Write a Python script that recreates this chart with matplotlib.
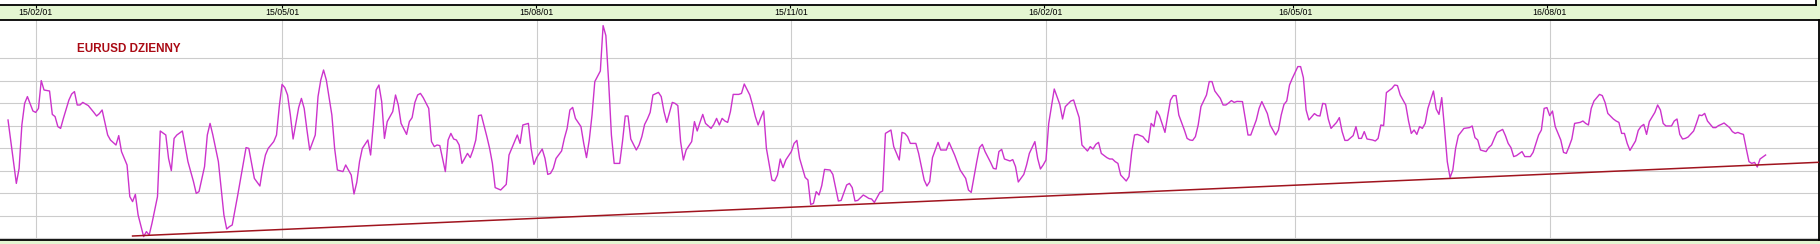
import matplotlib
matplotlib.use('Agg')
import matplotlib.pyplot as plt
import matplotlib.transforms as mtransforms
import pandas as pd

# EURUSD dzienny - kurs odczytany z wykresu
# dni liczone od 2015-01-01
dni = [21, 24, 25, 26, 27, 28, 30, 31, 32, 33, 34, 36, 37, 38, 39, 40, 41, 43, 44, 45,
       46, 47, 48, 50, 52, 53, 54, 55, 57, 58, 60, 61, 62, 64, 65, 66, 67, 68, 70, 71,
       72, 73, 75, 76, 78, 79, 80, 81, 82, 84, 85, 86, 88, 89, 90, 92, 93, 94, 95, 97,
       99, 100, 101, 102, 104, 106, 107, 108, 110,
       112, 113, 114, 115, 117, 118, 119, 120, 121, 122, 123, 124, 126, 127, 128, 129, 130, 132, 133, 134,
       135, 136, 138, 139, 140, 142, 143, 145, 146, 147, 148, 149, 151, 152, 153, 154, 155, 156, 157, 158,
       160, 161, 162, 163, 165, 166, 167, 168, 169, 170, 171, 173, 174, 175, 176, 177, 179, 180, 181, 182,
       183, 184, 185, 187, 188, 189, 190, 191, 192, 194, 195, 196, 197, 199, 201, 202,
       204, 205, 206, 207, 209, 210, 211, 212, 214, 215, 216, 217, 218, 219, 221, 222, 223, 224, 225, 226,
       228, 229, 230, 231, 232, 233, 235, 236, 237, 238, 239, 240, 242, 243, 244, 245, 246, 248, 249, 250,
       251, 252, 253, 254, 256, 257, 258, 259, 261, 262, 263, 264, 265, 266, 268, 269, 270, 271, 272, 273,
       275, 276, 277, 278, 279, 280, 281, 282, 283, 284, 285, 286, 287, 289, 290, 291, 292, 293, 294,
       295, 297, 298, 299, 300, 301, 302, 304, 305, 306, 307, 309, 310, 311, 312, 313, 314, 315, 316, 318,
       319, 320, 321, 322, 324, 325, 326, 327, 328, 330, 331, 332, 333, 334, 336, 337, 338, 340, 341, 343,
       344, 345, 346, 347, 349, 350, 351, 352, 353, 354, 355, 357, 358, 360, 361, 363, 365, 367, 368, 369,
       371, 372, 373, 374, 376, 377, 378, 379, 380, 381, 383, 384, 385, 386,
       388, 389, 390, 392, 393, 394, 395, 396, 397, 399, 400, 401, 402, 403, 405, 406, 407, 408, 409, 411,
       412, 413, 414, 415, 416, 418, 419, 420, 421, 422, 423, 425, 426, 427, 428, 429, 431, 432, 433, 434,
       435, 436, 437, 439, 440, 441, 442, 443, 444, 446, 447, 448, 449, 450, 451, 452, 454, 455, 456, 457,
       459, 460, 461, 462, 463, 464, 465, 467, 468, 469, 470, 472, 473, 474, 475, 476, 477, 479,
       480, 481, 482, 483, 484, 485, 487, 488, 489, 490, 491, 493, 494, 495, 496, 497, 498, 499, 501, 502,
       503, 504, 505, 507, 508, 509, 510, 511, 512, 514, 515, 516, 517, 518, 519, 521, 522, 523, 524, 526,
       527, 528, 529, 530, 531, 532, 533, 534, 536, 537, 538, 539, 540, 541, 542, 543, 544, 545, 547, 549,
       550, 551, 552, 553, 555, 556, 557, 558, 559, 561, 562, 563, 564, 565, 566, 568, 569, 571,
       572, 574, 575, 576, 577, 578, 579, 580, 582, 583, 584, 585, 586, 587, 589, 590, 591, 592, 593, 594,
       596, 597, 598, 599, 601, 602, 603, 604, 605, 606, 607, 609, 610, 611, 612, 613, 614, 616, 617, 618,
       619, 620, 622, 623, 624, 625, 626, 627, 628, 630, 631, 632, 633, 634, 635, 637, 638, 639, 640, 641,
       643, 644, 645, 646, 647, 648, 649, 650, 651, 652, 653, 654, 655, 656]

kurs = [1.1080, 1.0763, 1.0838, 1.1055, 1.1163, 1.1197, 1.1125, 1.1118, 1.1138, 1.1277, 1.1230, 1.1225, 1.1108, 1.1097, 1.1047, 1.1038, 1.1088, 1.1180, 1.1210, 1.1222,
        1.1155, 1.1155, 1.1168, 1.1152, 1.1118, 1.1100, 1.1112, 1.1130, 1.1005, 1.0980, 1.0955, 1.1002, 1.0922, 1.0855, 1.0697, 1.0672, 1.0708, 1.0605, 1.0497, 1.0522,
        1.0505, 1.0563, 1.0697, 1.1025, 1.1005, 1.0888, 1.0827, 1.0988, 1.1005, 1.1025, 1.0947, 1.0872, 1.0772, 1.0713, 1.0722, 1.0847, 1.1005, 1.1063, 1.1005, 1.0872,
        1.0605, 1.0535, 1.0547, 1.0555, 1.0705, 1.0863, 1.0942, 1.0938, 1.0788,
        1.0750, 1.0838, 1.0905, 1.0938, 1.0972, 1.1005, 1.1147, 1.1258, 1.1242, 1.1205, 1.1105, 1.0985, 1.1142, 1.1188, 1.1138, 1.1030, 1.0930, 1.1005, 1.1197, 1.1280,
        1.1330, 1.1280, 1.1105, 1.0938, 1.0830, 1.0822, 1.0855, 1.0805, 1.0710, 1.0768, 1.0872, 1.0938, 1.0980, 1.0905, 1.1063, 1.1230, 1.1255, 1.1172, 1.0988, 1.1072,
        1.1122, 1.1205, 1.1155, 1.1063, 1.1008, 1.1072, 1.1092, 1.1168, 1.1205, 1.1213, 1.1192, 1.1138, 1.0972, 1.0947, 1.0955, 1.0952, 1.0822, 1.0980, 1.1013, 1.0985,
        1.0980, 1.0955, 1.0863, 1.0913, 1.0892, 1.0930, 1.0980, 1.1102, 1.1105, 1.0997, 1.0938, 1.0863, 1.0742, 1.0730, 1.0758, 1.0905,
        1.0972, 1.1005, 1.0963, 1.1055, 1.1063, 1.0938, 1.0858, 1.0892, 1.0935, 1.0888, 1.0808, 1.0813, 1.0838, 1.0888, 1.0925, 1.0988, 1.1038, 1.1130, 1.1143, 1.1088,
        1.1047, 1.0963, 1.0892, 1.0980, 1.1105, 1.1272, 1.1325, 1.1552, 1.1502, 1.1272, 1.1005, 1.0863, 1.0863, 1.0972, 1.1100, 1.1100, 1.0985, 1.0930, 1.0955, 1.0997,
        1.1058, 1.1085, 1.1118, 1.1205, 1.1218, 1.1197, 1.1122, 1.1068, 1.1168, 1.1163, 1.1152, 1.0972, 1.0880, 1.0930, 1.0972, 1.1072, 1.1025, 1.1068, 1.1108, 1.1063,
        1.1038, 1.1058, 1.1088, 1.1055, 1.1088, 1.1075, 1.1068, 1.1122, 1.1208, 1.1208, 1.1208, 1.1213, 1.1260, 1.1205, 1.1155, 1.1097, 1.1055, 1.1092, 1.1125,
        1.0938, 1.0780, 1.0775, 1.0805, 1.0885, 1.0842, 1.0880, 1.0922, 1.0963, 1.0978, 1.0888, 1.0793, 1.0780, 1.0658, 1.0663, 1.0722, 1.0705, 1.0752, 1.0833, 1.0830,
        1.0808, 1.0742, 1.0675, 1.0678, 1.0755, 1.0763, 1.0742, 1.0675, 1.0678, 1.0705, 1.0697, 1.0688, 1.0685, 1.0668, 1.0718, 1.0725, 1.1013, 1.1030, 1.0947, 1.0880,
        1.1018, 1.1013, 1.0997, 1.0963, 1.0963, 1.0913, 1.0847, 1.0780, 1.0750, 1.0772, 1.0892, 1.0968, 1.0930, 1.0930, 1.0968, 1.0905, 1.0830, 1.0788, 1.0730, 1.0718,
        1.0872, 1.0942, 1.0958, 1.0922, 1.0868, 1.0838, 1.0835, 1.0922, 1.0933, 1.0885, 1.0875, 1.0882, 1.0847, 1.0770,
        1.0808, 1.0855, 1.0913, 1.0972, 1.0888, 1.0835, 1.0855, 1.0880, 1.1063, 1.1235, 1.1197, 1.1158, 1.1085, 1.1147, 1.1175, 1.1180, 1.1135, 1.1092, 1.0955, 1.0925,
        1.0947, 1.0935, 1.0958, 1.0968, 1.0913, 1.0892, 1.0885, 1.0885, 1.0872, 1.0863, 1.0805, 1.0775, 1.0797, 1.0922, 1.1005, 1.1008, 1.0997, 1.0980, 1.0967, 1.1063,
        1.1047, 1.1125, 1.1102, 1.1018, 1.1102, 1.1180, 1.1202, 1.1202, 1.1105, 1.1030, 1.0988, 1.0980, 1.0978, 1.0997, 1.1055, 1.1147, 1.1205, 1.1272, 1.1272, 1.1225,
        1.1188, 1.1155, 1.1155, 1.1165, 1.1177, 1.1168, 1.1173, 1.1172, 1.1088, 1.1005, 1.1005, 1.1080, 1.1138, 1.1172, 1.1142, 1.1112, 1.1055, 1.1005,
        1.1030, 1.1105, 1.1158, 1.1175, 1.1255, 1.1288, 1.1347, 1.1347, 1.1292, 1.1130, 1.1080, 1.1112, 1.1102, 1.1100, 1.1163, 1.1160, 1.1085, 1.1038, 1.1068, 1.1092,
        1.1022, 1.0978, 1.0978, 1.1002, 1.1047, 1.0988, 1.0988, 1.1022, 1.0985, 1.0980, 1.0975, 1.0988, 1.1055, 1.1052, 1.1217, 1.1238, 1.1255, 1.1252, 1.1205, 1.1155,
        1.1075, 1.1013, 1.1030, 1.1008, 1.1047, 1.1038, 1.1063, 1.1138, 1.1225, 1.1135, 1.1108, 1.1192, 1.1038, 1.0872, 1.0792, 1.0830, 1.0938, 1.1002, 1.1038, 1.1042,
        1.1050, 1.0992, 1.0980, 1.0930, 1.0922, 1.0942, 1.0955, 1.0988, 1.1018, 1.1033, 1.1002, 1.0963, 1.0942, 1.0897, 1.0902, 1.0922, 1.0897, 1.0897,
        1.0918, 1.1005, 1.1030, 1.1138, 1.1142, 1.1102, 1.1125, 1.1047, 1.0980, 1.0918, 1.0913, 1.0947, 1.0985, 1.1063, 1.1068, 1.1075, 1.1063, 1.1055, 1.1138, 1.1175,
        1.1208, 1.1202, 1.1168, 1.1113, 1.1085, 1.1075, 1.1068, 1.1013, 1.1013, 1.0963, 1.0928, 1.0975, 1.1028, 1.1048, 1.1058, 1.1008, 1.1072, 1.1118, 1.1155, 1.1130,
        1.1063, 1.1050, 1.1050, 1.1075, 1.1085, 1.1008, 1.0985, 1.0988, 1.0995, 1.1025, 1.1063, 1.1105, 1.1102, 1.1113, 1.1075, 1.1042, 1.1042, 1.1052, 1.1058, 1.1065,
        1.1042, 1.1022, 1.1013, 1.1018, 1.1012, 1.1008, 1.0938, 1.0872, 1.0863, 1.0868, 1.0845, 1.0885, 1.0895, 1.0905]

# linia trendu (wsparcie)
trend_dni = [66, 676]
trend_kurs = [1.0500, 1.0869]

# etykiety osi czasu i poziome linie siatki
miesiace = ['2015-02-01', '2015-05-01', '2015-08-01', '2015-11-01',
            '2016-02-01', '2016-05-01', '2016-08-01']
poziomy = [1.0489, 1.0601, 1.0714, 1.0826, 1.0939, 1.1051, 1.1164, 1.1276, 1.1389]

start = pd.Timestamp('2015-01-01')
daty = start + pd.to_timedelta(dni, unit='D')
trend_daty = start + pd.to_timedelta(trend_dni, unit='D')
ticki = pd.to_datetime(miesiace)

W, H = 1820, 244
ZIELONY = '#e4f6d2'

fig = plt.figure(figsize=(W / 100, H / 100), dpi=100)
fig.patch.set_facecolor(ZIELONY)


def pos(x0, y0, x1, y1):
    # prostokat w pikselach (od gory) -> ulamki figury
    return [x0 / W, 1 - y1 / H, (x1 - x0) / W, (y1 - y0) / H]


ax = fig.add_axes(pos(0, 20, 1819, 240))
gora = fig.add_axes(pos(0, -3, 1816, 4.5), sharex=ax)

ax.plot(daty, kurs, color='#cc33cc', lw=1.0, zorder=3)
ax.plot(trend_daty, trend_kurs, color='#a0141e', lw=1.1, zorder=4)

ax.set_xticks(ticki)
ax.set_yticks(poziomy)
ax.set_xlim(start + pd.Timedelta(days=18.1), start + pd.Timedelta(days=675.3))
ax.set_ylim(1.048, 1.158)
ax.set_axisbelow(True)
ax.grid(True, color='#cccccc', lw=0.8)
ax.tick_params(length=0, labelbottom=False, labelleft=False)
ax.spines['left'].set_visible(False)
for s in ['top', 'bottom', 'right']:
    ax.spines[s].set_color('black')
    ax.spines[s].set_linewidth(1.3)

gora.set_facecolor('white')
gora.set_yticks([])
gora.tick_params(axis='x', bottom=True, direction='out', length=2.2, width=0.8,
                 labelbottom=False)
gora.spines['left'].set_visible(False)
gora.spines['top'].set_visible(False)
gora.spines['bottom'].set_linewidth(1.3)
gora.spines['right'].set_linewidth(1.3)

tr = mtransforms.blended_transform_factory(ax.transData, ax.transAxes)
for t in ticki:
    ax.text(t, 1.036, t.strftime('%y/%m/%d'), transform=tr, ha='center', va='center',
            fontsize=6.3, family='Liberation Sans', color='black', clip_on=False)

ax.text(0.0423, 0.866, 'EURUSD DZIENNY', transform=ax.transAxes, ha='left', va='center',
        fontsize=8.4, fontweight='bold', family='Liberation Sans', color='#aa0a14')

fig.savefig('out.png', dpi=100, facecolor=fig.get_facecolor())
